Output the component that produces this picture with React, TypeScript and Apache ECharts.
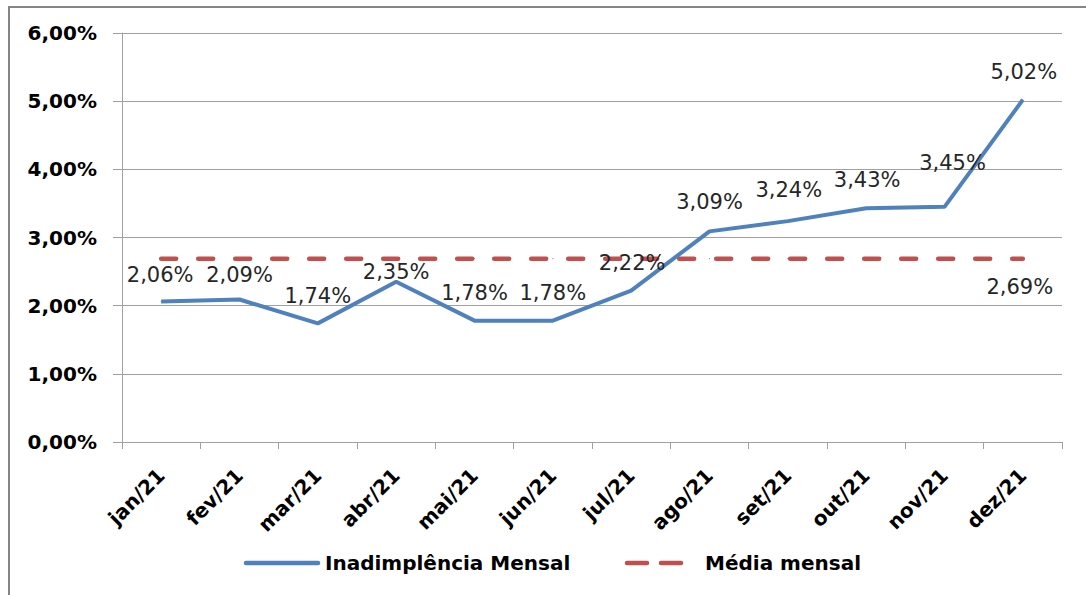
import React, { useEffect, useRef } from "react";
import * as echarts from "echarts";

const categories = ["jan/21", "fev/21", "mar/21", "abr/21", "mai/21", "jun/21", "jul/21", "ago/21", "set/21", "out/21", "nov/21", "dez/21"];
const inadimplencia = [2.06, 2.09, 1.74, 2.35, 1.78, 1.78, 2.22, 3.09, 3.24, 3.43, 3.45, 5.02];
const mediaMensal = [2.69, 2.69, 2.69, 2.69, 2.69, 2.69, 2.69, 2.69, 2.69, 2.69, 2.69, 2.69];
const seriesNames = ["Inadimplência Mensal", "Média mensal"];

// label offsets (style only)
const labelOffsets = [[-1, -27], [0, -25], [0, -27], [0, -10], [0, -28], [0, -28], [1, -28], [0, -29], [1, -31], [1, -28], [8, -44], [1, -28]];

const fmt = (v: number) => v.toFixed(2).replace(".", ",") + "%";
const FONT = "DejaVu Sans";
const BLUE = "#4F81BD";
const RED = "#C0504D";
const GRID = "#a0a0a0";

export default function App() {
  const ref = useRef<HTMLDivElement>(null);
  useEffect(() => {
    if (!ref.current) return;
    const chart = echarts.init(ref.current, null, { renderer: "svg" });
    const lastIdx = mediaMensal.length - 1;
    chart.setOption({
      animation: false,
      backgroundColor: "#ffffff",
      grid: { left: 122, right: 24, top: 33, bottom: 153, containLabel: false },
      xAxis: {
        type: "category",
        data: categories,
        boundaryGap: true,
        axisLine: { show: true, lineStyle: { color: GRID, width: 1 } },
        axisTick: { show: true, length: 7, inside: false, alignWithLabel: false, lineStyle: { color: GRID } },
        axisLabel: {
          rotate: 45,
          margin: 30,
          fontFamily: FONT,
          fontWeight: "bold",
          fontSize: 20,
          color: "#000000",
          interval: 0,
        },
        splitLine: { show: false },
      },
      yAxis: {
        type: "value",
        min: 0,
        max: 6,
        interval: 1,
        axisLine: { show: true, lineStyle: { color: GRID, width: 1 } },
        axisTick: { show: true, length: 9, lineStyle: { color: GRID } },
        axisLabel: {
          margin: 25,
          fontFamily: FONT,
          fontWeight: "bold",
          fontSize: 20,
          color: "#000000",
          formatter: (v: number) => fmt(v),
        },
        splitLine: { show: true, lineStyle: { color: GRID, width: 1 } },
      },
      series: [
        {
          name: seriesNames[1],
          type: "line",
          z: 2,
          data: mediaMensal.map((v, i) => ({
            value: v,
            label: { show: i === lastIdx, offset: [-3, 28] },
          })),
          symbol: "circle",
          symbolSize: 1,
          itemStyle: { color: RED },
          lineStyle: { color: RED, width: 4.5, type: [15, 22], cap: "round" },
          label: {
            show: false,
            position: "inside",
            fontFamily: FONT,
            fontSize: 21,
            color: "#262626",
            formatter: (p: any) => fmt(p.value),
          },
          emphasis: { disabled: true },
        },
        {
          name: seriesNames[0],
          type: "line",
          z: 3,
          data: inadimplencia.map((v, i) => ({
            value: v,
            label: { offset: labelOffsets[i] },
          })),
          symbol: "circle",
          symbolSize: 1,
          itemStyle: { color: BLUE },
          lineStyle: { color: BLUE, width: 4 },
          label: {
            show: true,
            position: "inside",
            fontFamily: FONT,
            fontSize: 21,
            color: "#262626",
            formatter: (p: any) => fmt(p.value),
          },
          emphasis: { disabled: true },
        },
      ],
      graphic: [
        {
          type: "rect",
          silent: true,
          shape: { x: 9, y: 7, width: 1300, height: 800 },
          style: { fill: "none", stroke: "#858585", lineWidth: 2 },
        },
        {
          type: "line",
          silent: true,
          shape: { x1: 246, y1: 563, x2: 318, y2: 563 },
          style: { stroke: BLUE, lineWidth: 4.5, lineCap: "round" },
        },
        {
          type: "text",
          silent: true,
          x: 325,
          y: 563,
          style: {
            text: seriesNames[0],
            font: `bold 20px "${FONT}"`,
            fill: "#000000",
            verticalAlign: "middle",
            align: "left",
          },
        },
        {
          type: "line",
          silent: true,
          shape: { x1: 627, y1: 563, x2: 681, y2: 563 },
          style: { stroke: RED, lineWidth: 4.5, lineCap: "round", lineDash: [20, 14] },
        },
        {
          type: "text",
          silent: true,
          x: 705,
          y: 563,
          style: {
            text: seriesNames[1],
            font: `bold 20px "${FONT}"`,
            fill: "#000000",
            verticalAlign: "middle",
            align: "left",
          },
        },
      ],
    });
    return () => chart.dispose();
  }, []);
  return (
    <div
      ref={ref}
      style={{ position: "fixed", left: 0, top: 0, width: 1086, height: 595, background: "#fff" }}
    />
  );
}
